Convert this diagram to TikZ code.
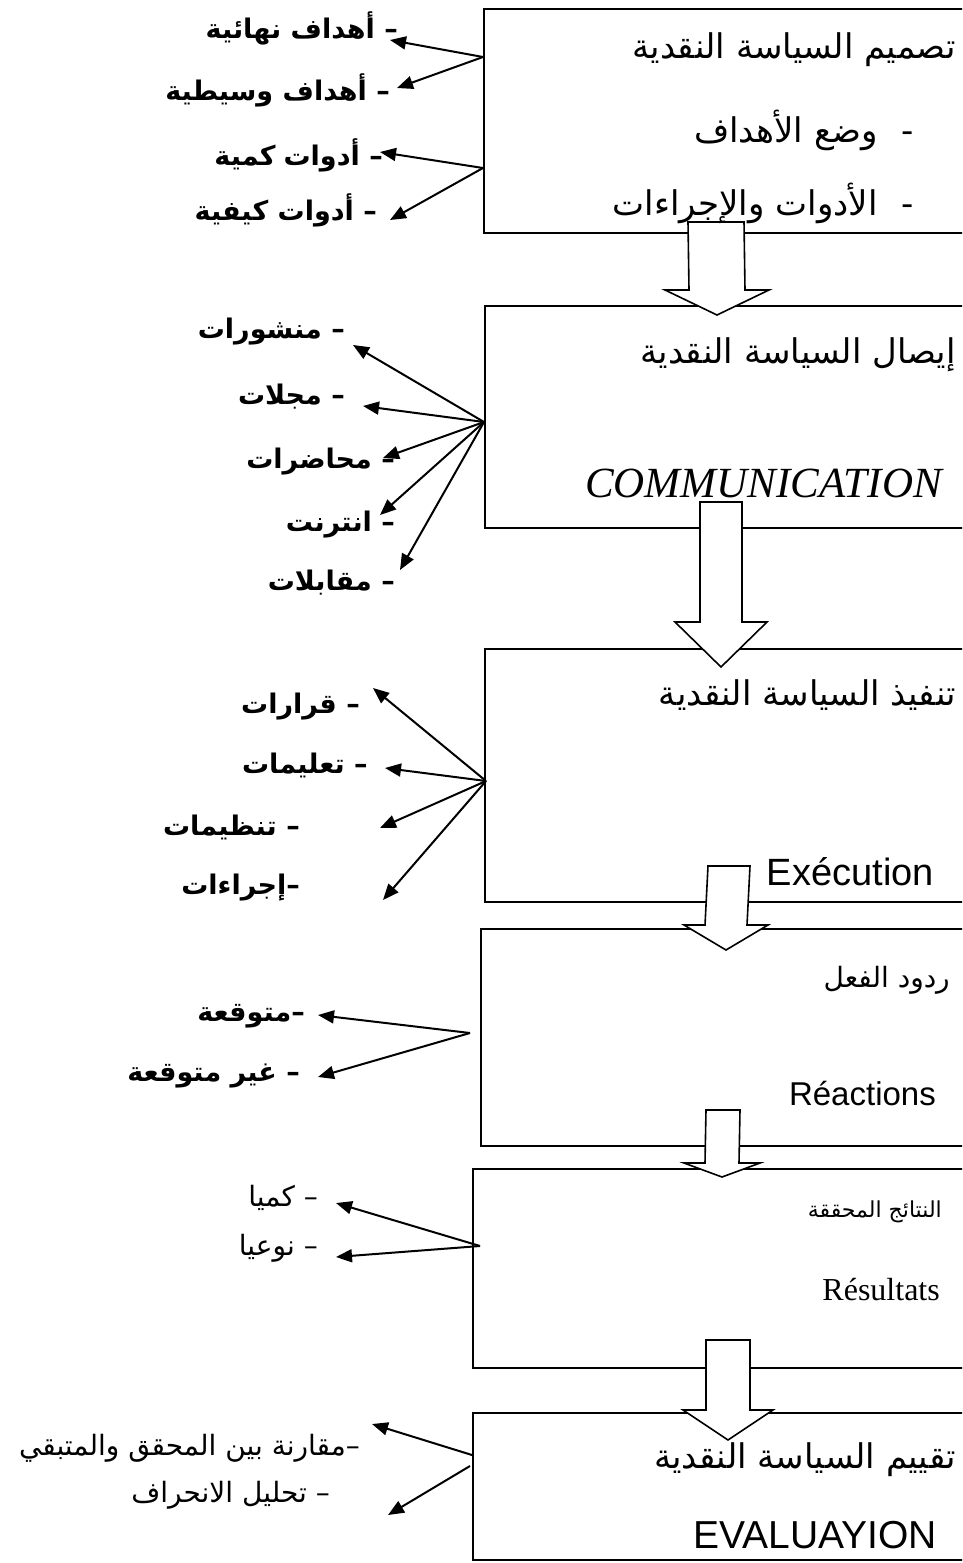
\documentclass[tikz,border=0pt]{standalone}
\usepackage{fontspec}
\setmainfont{Liberation Serif}
\newfontfamily\arabicfont[Script=Arabic]{DejaVu Sans}
\newfontfamily\arialfont{Liberation Sans}
\TeXXeTstate=1
\usetikzlibrary{arrows.meta, calc}

% hollow block arrow: start, tip, half shaft, half head, head length
\newcommand{\hollowarrow}[5]{%
  \draw[hollow] ($(#1)+(-#3,0)$) -- ($(#2)+(-#3,-#5)$) -- ($(#2)+(-#4,-#5)$) -- (#2)
    -- ($(#2)+(#4,-#5)$) -- ($(#2)+(#3,-#5)$) -- ($(#1)+(#3,0)$) -- cycle;}

\begin{document}
\begin{tikzpicture}[
    x=1pt, y=-1pt,
    box/.style={draw, rectangle, line width=2pt, anchor=north west, minimum width=700pt, inner sep=0pt},
    head/.style={anchor=east, inner sep=0pt, font=\arabicfont\fontsize{34}{37}\selectfont},
    item/.style={anchor=east, inner sep=0pt, font=\arabicfont\bfseries\fontsize{27}{30}\selectfont},
    plainitem/.style={anchor=east, inner sep=0pt, font=\arabicfont\fontsize{28}{31}\selectfont},
    latin/.style={anchor=east, inner sep=0pt},
    ptr/.style={-{Triangle[length=16pt,width=13pt]}, line width=2pt},
    hollow/.style={draw, fill=white, line width=1.6pt}
]
\useasboundingbox (0,0) rectangle (962,1563);
\clip (0,0) rectangle (962,1563);

% Boxes
\node[box, minimum height=224pt] (design) at (483,8) {};
\node[box, minimum height=222pt] (comm) at (484,305) {};
\node[box, minimum height=253pt] (exec) at (484,648) {};
\node[box, minimum height=217pt] (react) at (480,928) {};
\node[box, minimum height=199pt] (result) at (472,1168) {};
\node[box, minimum height=147pt] (eval) at (472,1412) {};

% Block arrows between the boxes
\coordinate (a1s) at (716,222);  \coordinate (a1t) at (717,315);
\coordinate (a2s) at (721,502);  \coordinate (a2t) at (721,667);
\coordinate (a3s) at (729,866);  \coordinate (a3t) at (726,950);
\coordinate (a4s) at (723,1110); \coordinate (a4t) at (722,1177);
\coordinate (a5s) at (728,1340); \coordinate (a5t) at (728,1440);
\hollowarrow{a1s}{a1t}{28}{52}{25}
\hollowarrow{a2s}{a2t}{21}{46}{45}
\hollowarrow{a3s}{a3t}{21}{42}{25}
\hollowarrow{a4s}{a4t}{17}{38}{14}
\hollowarrow{a5s}{a5t}{22}{45}{30}

% Box texts
\node[head] (designT) at (956,50) {\beginR تصميم السياسة النقدية\endR};
\node[head] (designA) at (914,130) {\beginR -\hspace{24pt}وضع الأهداف\endR};
\node[head] (designB) at (914,203) {\beginR -\hspace{24pt}الأدوات والإجراءات\endR};
\node[head] (commT) at (956,355) {\beginR إيصال السياسة النقدية\endR};
\node[latin, font=\itshape\fontsize{43}{46}\selectfont] (commL) at (942,483) {COMMUNICATION};
\node[head] (execT) at (956,695) {\beginR تنفيذ السياسة النقدية\endR};
\node[latin, font=\arialfont\fontsize{38}{42}\selectfont] (execL) at (934,872) {Exécution};
\node[head, font=\arabicfont\fontsize{28}{31}\selectfont] (reactT) at (950,980) {\beginR ردود الفعل\endR};
\node[latin, font=\arialfont\fontsize{33}{36}\selectfont] (reactL) at (936,1093) {Réactions};
\node[head, font=\arabicfont\fontsize{22}{25}\selectfont] (resultT) at (942,1212) {\beginR النتائج المحققة\endR};
\node[latin, font=\fontsize{32}{35}\selectfont] (resultL) at (940,1290) {Résultats};
\node[head] (evalT) at (956,1460) {\beginR تقييم السياسة النقدية\endR};
\node[latin, font=\arialfont\fontsize{39}{42}\selectfont] (evalL) at (937,1535) {EVALUAYION};

% Items of box 1
\node[item] (goalF) at (398,28) {\beginR – أهداف نهائية\endR};
\node[item] (goalI) at (390,90) {\beginR – أهداف وسيطية\endR};
\node[item] (toolQ) at (383,155) {\beginR – أدوات\hspace{8pt}كمية\endR};
\node[item] (toolK) at (377,210) {\beginR – أدوات كيفية\endR};
\coordinate (d1) at (483,57);
\coordinate (d2) at (483,168);
\draw[ptr] (d1) -- ([xshift=-8pt,yshift=-12pt]goalF.east);
\draw[ptr] (d1) -- ([xshift=7pt,yshift=2pt]goalI.east);
\draw[ptr] (d2) -- ([xshift=-3pt,yshift=3pt]toolQ.east);
\draw[ptr] (d2) -- ([xshift=13pt,yshift=-10pt]toolK.east);

% Items of box 2
\node[item] (pub) at (345,332) {\beginR – منشورات\endR};
\node[item] (mag) at (345,397) {\beginR – مجلات\endR};
\node[item] (lect) at (395,462) {\beginR – محاضرات\endR};
\node[item] (web) at (395,525) {\beginR – انترنت\endR};
\node[item] (intv) at (395,583) {\beginR – مقابلات\endR};
\coordinate (c1) at (484,422);
\draw[ptr] (c1) -- ([xshift=8pt,yshift=-13pt]pub.east);
\draw[ptr] (c1) -- ([xshift=18pt,yshift=-9pt]mag.east);
\draw[ptr] (c1) -- ([xshift=-12pt,yshift=4pt]lect.east);
\draw[ptr] (c1) -- ([xshift=-15pt,yshift=10pt]web.east);
\draw[ptr] (c1) -- ([xshift=5pt,yshift=13pt]intv.east);

% Items of box 3
\node[item] (dec) at (360,707) {\beginR – قرارات\endR};
\node[item] (instr) at (368,765) {\beginR – تعليمات\endR};
\node[item] (regl) at (300,827) {\beginR – تنظيمات\endR};
\node[item] (proc) at (300,888) {\beginR –إجراءات\endR};
\coordinate (e1) at (486,781);
\draw[ptr] (e1) -- ([xshift=13pt,yshift=19pt]dec.east);
\draw[ptr] (e1) -- ([xshift=17pt,yshift=-3pt]instr.east);
\draw[ptr] (e1) -- ([xshift=80pt,yshift=-1pt]regl.east);
\draw[ptr] (e1) -- ([xshift=83pt,yshift=-12pt]proc.east);

% Items of box 4
\node[item] (exp) at (305,1016) {\beginR –متوقعة\endR};
\node[item] (unexp) at (300,1076) {\beginR – غير متوقعة\endR};
\coordinate (r1) at (470,1033);
\draw[ptr] (r1) -- ([xshift=13pt,yshift=1pt]exp.east);
\draw[ptr] (r1) -- ([xshift=18pt,yshift=-1pt]unexp.east);

% Items of box 5
\node[plainitem] (qty) at (318,1198) {\beginR – كميا\endR};
\node[plainitem] (qual) at (318,1248) {\beginR – نوعيا\endR};
\coordinate (q1) at (480,1246);
\draw[ptr] (q1) -- ([xshift=18pt,yshift=-5pt]qty.east);
\draw[ptr] (q1) -- ([xshift=18pt,yshift=-9pt]qual.east);

% Items of box 6
\node[plainitem] (cmp) at (360,1448) {\beginR –مقارنة بين المحقق والمتبقي\endR};
\node[plainitem] (dev) at (330,1495) {\beginR – تحليل الانحراف\endR};
\coordinate (v1) at (472,1455);
\coordinate (v2) at (470,1466);
\draw[ptr] (v1) -- ([xshift=12pt,yshift=24pt]cmp.east);
\draw[ptr] (v2) -- ([xshift=58pt,yshift=-20pt]dev.east);

\end{tikzpicture}
\end{document}
